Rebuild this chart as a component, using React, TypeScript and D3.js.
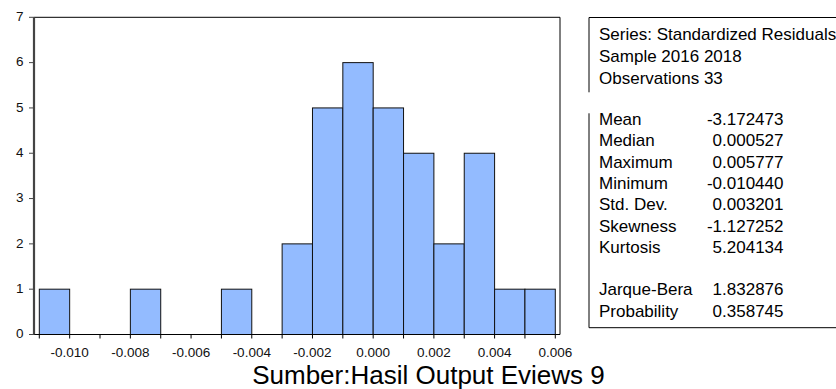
import React, { useEffect, useRef } from 'react';
import * as d3 from 'd3';

// histogram bins (start of each 0.001-wide bin) and counts
const binStarts = [
  -0.011, -0.01, -0.009, -0.008, -0.007, -0.006, -0.005, -0.004, -0.003,
  -0.002, -0.001, 0.0, 0.001, 0.002, 0.003, 0.004, 0.005,
];
const binCounts = [1, 0, 0, 1, 0, 0, 1, 0, 2, 5, 6, 5, 4, 2, 4, 1, 1];
const binWidth = 0.001;

const xTickLabels = [-0.01, -0.008, -0.006, -0.004, -0.002, 0.0, 0.002, 0.004, 0.006];
const yTicks = [0, 1, 2, 3, 4, 5, 6, 7];

const headerLines = ['Series: Standardized Residuals', 'Sample 2016 2018', 'Observations 33'];
const statLabels = ['Mean', 'Median', 'Maximum', 'Minimum', 'Std. Dev.', 'Skewness', 'Kurtosis', '', 'Jarque-Bera', 'Probability'];
const statValues = ['-3.172473', '0.000527', '0.005777', '-0.010440', '0.003201', '-1.127252', '5.204134', '', '1.832876', '0.358745'];

const caption = 'Sumber:Hasil Output Eviews 9';

const W = 836;
const H = 389;
const FONT = 'Arial, "Liberation Sans", sans-serif';

export default function App() {
  const ref = useRef<SVGSVGElement>(null);

  useEffect(() => {
    const svg = d3.select(ref.current);
    svg.selectAll('*').remove();

    const left = 34;
    const right = 560;
    const top = 17.3;
    const bottom = 334.5;

    const x = d3.scaleLinear().domain([-0.011175, 0.006155]).range([left, right]);
    const y = d3.scaleLinear().domain([0, 7]).range([bottom, top]);

    // bars
    const bins = binStarts.map((s, i) => ({ x0: s, x1: s + binWidth, n: binCounts[i] }));
    svg
      .append('g')
      .selectAll('rect')
      .data(bins.filter((d) => d.n > 0))
      .enter()
      .append('rect')
      .attr('x', (d) => x(d.x0))
      .attr('y', (d) => y(d.n))
      .attr('width', (d) => x(d.x1) - x(d.x0))
      .attr('height', (d) => y(0) - y(d.n))
      .attr('fill', '#93bbff')
      .attr('stroke', '#111')
      .attr('stroke-width', 1);

    // frame: top and right
    svg.append('line').attr('x1', left).attr('x2', right).attr('y1', top).attr('y2', top).attr('stroke', '#000');
    svg.append('line').attr('x1', right).attr('x2', right).attr('y1', top).attr('y2', bottom).attr('stroke', '#000');

    // x axis
    svg.append('line').attr('x1', left).attr('x2', right).attr('y1', bottom).attr('y2', bottom).attr('stroke', '#000').attr('stroke-width', 1.2);
    const edges = [...binStarts, binStarts[binStarts.length - 1] + binWidth];
    svg
      .append('g')
      .selectAll('line')
      .data(edges)
      .enter()
      .append('line')
      .attr('x1', (d) => x(d))
      .attr('x2', (d) => x(d))
      .attr('y1', bottom)
      .attr('y2', bottom + 4)
      .attr('stroke', '#000');
    svg
      .append('g')
      .selectAll('text')
      .data(xTickLabels)
      .enter()
      .append('text')
      .attr('x', (d) => x(d))
      .attr('y', 356.5)
      .attr('text-anchor', 'middle')
      .attr('font-family', FONT)
      .attr('font-size', 13.5)
      .attr('fill', '#111')
      .text((d) => d.toFixed(3));

    // y axis
    svg.append('line').attr('x1', left).attr('x2', left).attr('y1', top).attr('y2', bottom).attr('stroke', '#444').attr('stroke-width', 2.2);
    svg
      .append('g')
      .selectAll('line')
      .data(yTicks)
      .enter()
      .append('line')
      .attr('x1', left - 5)
      .attr('x2', left)
      .attr('y1', (d) => y(d))
      .attr('y2', (d) => y(d))
      .attr('stroke', '#444');
    svg
      .append('g')
      .selectAll('text')
      .data(yTicks)
      .enter()
      .append('text')
      .attr('x', 23.5)
      .attr('y', (d) => y(d))
      .attr('dy', '0.28em')
      .attr('text-anchor', 'end')
      .attr('font-family', FONT)
      .attr('font-size', 13.5)
      .attr('fill', '#111')
      .text((d) => d);

    // stats box
    const bx = 589;
    const box = svg.append('g');
    box.append('line').attr('x1', bx).attr('x2', W).attr('y1', 17.5).attr('y2', 17.5).attr('stroke', '#000');
    box.append('line').attr('x1', bx).attr('x2', bx).attr('y1', 17.5).attr('y2', 92.3).attr('stroke', '#000');
    box.append('line').attr('x1', bx).attr('x2', bx).attr('y1', 113.3).attr('y2', 327.7).attr('stroke', '#000');
    box.append('line').attr('x1', bx).attr('x2', W).attr('y1', 327.7).attr('y2', 327.7).attr('stroke', '#000');

    box
      .selectAll('text.h')
      .data(headerLines)
      .enter()
      .append('text')
      .attr('class', 'h')
      .attr('x', 599)
      .attr('y', (d, i) => 39.5 + i * 22)
      .attr('font-family', FONT)
      .attr('font-size', 17)
      .attr('fill', '#000')
      .text((d) => d);

    box
      .selectAll('text.l')
      .data(statLabels)
      .enter()
      .append('text')
      .attr('class', 'l')
      .attr('x', 599)
      .attr('y', (d, i) => 125 + i * 21.3)
      .attr('font-family', FONT)
      .attr('font-size', 17)
      .attr('fill', '#000')
      .text((d) => d);

    box
      .selectAll('text.v')
      .data(statValues)
      .enter()
      .append('text')
      .attr('class', 'v')
      .attr('x', 783.5)
      .attr('y', (d, i) => 125 + i * 21.3)
      .attr('text-anchor', 'end')
      .attr('font-family', FONT)
      .attr('font-size', 17)
      .attr('fill', '#000')
      .text((d) => d);

    // caption
    svg
      .append('text')
      .attr('x', 428.5)
      .attr('y', 383.5)
      .attr('text-anchor', 'middle')
      .attr('font-family', FONT)
      .attr('font-size', 26)
      .attr('fill', '#000')
      .text(caption);
  }, []);

  return (
    <svg
      ref={ref}
      width={W}
      height={H}
      style={{ position: 'absolute', left: 0, top: 0, background: '#fff' }}
    ></svg>
  );
}
